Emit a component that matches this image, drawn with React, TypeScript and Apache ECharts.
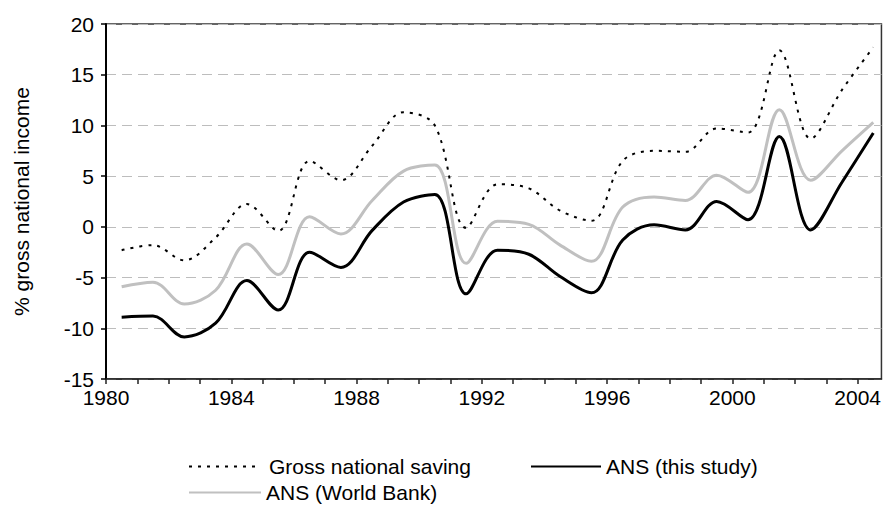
import React, { useEffect, useRef } from "react";
import * as echarts from "echarts";

// Data years (each plotted in the middle of its year slot, Excel-style)
const years = [
  1980, 1981, 1982, 1983, 1984, 1985, 1986, 1987, 1988, 1989, 1990, 1991, 1992,
  1993, 1994, 1995, 1996, 1997, 1998, 1999, 2000, 2001, 2002, 2003, 2004,
];

const grossSaving = [
  -2.3, -1.8, -3.3, -1.05, 2.25, -0.4, 6.5, 4.6, 8.0, 11.3, 10.0, -0.1, 4.2,
  3.8, 1.6, 0.6, 6.5, 7.5, 7.4, 9.7, 9.3, 17.4, 8.7, 13.5, 17.7,
];

const ansThisStudy = [
  -8.9, -8.8, -10.85, -9.5, -5.3, -8.2, -2.5, -4.0, -0.35, 2.45, 3.2, -6.6,
  -2.3, -2.7, -4.9, -6.5, -1.3, 0.2, -0.3, 2.5, 0.7, 8.9, -0.3, 4.4, 9.25,
];

const ansWorldBank = [
  -5.9, -5.45, -7.6, -6.25, -1.7, -4.7, 1.0, -0.7, 2.6, 5.5, 6.1, -3.6, 0.55,
  0.25, -1.8, -3.4, 1.95, 2.95, 2.6, 5.1, 3.4, 11.55, 4.6, 7.5, 10.3,
];

const seriesNames = ["Gross national saving", "ANS (this study)", "ANS (World Bank)"];
const yAxisTitle = "% gross national income";

const FONT = '"Liberation Sans", Arial, sans-serif';
const FS = 21;

export default function App() {
  const ref = useRef<HTMLDivElement>(null);

  useEffect(() => {
    if (!ref.current) return;
    const chart = echarts.init(ref.current, undefined, { renderer: "svg" });

    const toPoints = (vals: number[]) => years.map((y, i) => [y + 0.5, vals[i]]);

    const legendBase = {
      padding: 0,
      itemHeight: 12,
      itemGap: 0,
      selectedMode: false,
      itemStyle: { opacity: 0 },
    };

    chart.setOption({
      animation: false,
      backgroundColor: "#fff",
      grid: {
        left: 106,
        right: -2,
        top: 24,
        bottom: 133,
        show: true,
        borderColor: "#333",
        borderWidth: 1.5,
        containLabel: false,
      },
      legend: [
        {
          ...legendBase,
          data: [seriesNames[0]],
          left: 188,
          top: 456,
          itemWidth: 67,
          textStyle: { color: "#000", fontSize: FS, fontFamily: FONT, padding: [0, 0, 0, 8] },
        },
        {
          ...legendBase,
          data: [seriesNames[1]],
          left: 530,
          top: 456,
          itemWidth: 70,
          textStyle: { color: "#000", fontSize: FS, fontFamily: FONT },
        },
        {
          ...legendBase,
          data: [seriesNames[2]],
          left: 188,
          top: 482,
          itemWidth: 72,
          textStyle: { color: "#000", fontSize: FS, fontFamily: FONT },
        },
      ],
      xAxis: {
        type: "value",
        min: 1980,
        max: 2004.76,
        interval: 1,
        axisLine: { show: true, onZero: false, lineStyle: { color: "#222", width: 1.5 } },
        axisTick: { show: true, length: 5, lineStyle: { color: "#222", width: 1.5 } },
        axisLabel: {
          color: "#000",
          fontSize: FS,
          fontFamily: FONT,
          margin: 8,
          showMaxLabel: false,
          formatter: (v: number) => (v % 4 === 0 ? String(v) : ""),
        },
        splitLine: { show: false },
      },
      yAxis: {
        type: "value",
        min: -15,
        max: 20,
        interval: 5,
        name: yAxisTitle,
        nameLocation: "middle",
        nameRotate: 90,
        nameGap: 74,
        nameTextStyle: { color: "#000", fontSize: FS, fontFamily: FONT },
        axisLine: { show: true, lineStyle: { color: "#000", width: 2 } },
        axisTick: { show: true, length: 5, lineStyle: { color: "#000", width: 1.5 } },
        axisLabel: { color: "#000", fontSize: FS, fontFamily: FONT, margin: 12 },
        splitLine: {
          show: true,
          lineStyle: { color: "#bdbdbd", width: 1, type: [10, 6] },
        },
      },
      series: [
        {
          name: seriesNames[0],
          type: "line",
          data: toPoints(grossSaving),
          smooth: 0.35,
          symbol: "none",
          lineStyle: { color: "#000", width: 2, type: [3, 6] },
          itemStyle: { color: "#000" },
          z: 3,
        },
        {
          name: seriesNames[1],
          type: "line",
          data: toPoints(ansThisStudy),
          smooth: 0.35,
          symbol: "none",
          lineStyle: { color: "#000", width: 3 },
          itemStyle: { color: "#000" },
          z: 4,
        },
        {
          name: seriesNames[2],
          type: "line",
          data: toPoints(ansWorldBank),
          smooth: 0.35,
          symbol: "none",
          lineStyle: { color: "#c0c0c0", width: 3 },
          itemStyle: { color: "#c0c0c0" },
          z: 2,
        },
      ],
    });

    return () => chart.dispose();
  }, []);

  return (
    <div
      ref={ref}
      style={{ position: "absolute", left: 0, top: 0, width: 884, height: 512 }}
    />
  );
}
